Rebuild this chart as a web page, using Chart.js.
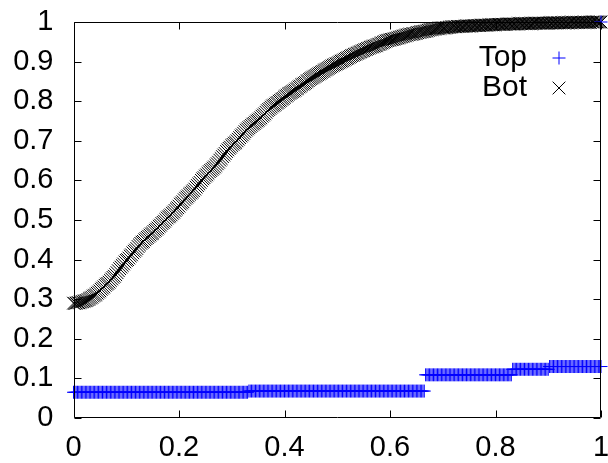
<!DOCTYPE html>
<html>
<head>
<meta charset="utf-8">
<script src="https://cdn.jsdelivr.net/npm/chart.js@4/dist/chart.umd.min.js"></script>
<style>
html,body{margin:0;padding:0;background:#fff;}
#c{display:block;}
</style>
</head>
<body>
<canvas id="c" width="608" height="463"></canvas>
<script>
const seriesNames = ['Top', 'Bot'];

const xValues = [
  0.0000,0.0025,0.0050,0.0075,0.0100,0.0125,0.0150,0.0175,0.0200,0.0225,
  0.0250,0.0275,0.0300,0.0325,0.0350,0.0375,0.0400,0.0425,0.0450,0.0475,
  0.0500,0.0525,0.0550,0.0575,0.0600,0.0625,0.0650,0.0675,0.0700,0.0725,
  0.0750,0.0775,0.0800,0.0825,0.0850,0.0875,0.0900,0.0925,0.0950,0.0975,
  0.1000,0.1025,0.1050,0.1075,0.1100,0.1125,0.1150,0.1175,0.1200,0.1225,
  0.1250,0.1275,0.1300,0.1325,0.1350,0.1375,0.1400,0.1425,0.1450,0.1475,
  0.1500,0.1525,0.1550,0.1575,0.1600,0.1625,0.1650,0.1675,0.1700,0.1725,
  0.1750,0.1775,0.1800,0.1825,0.1850,0.1875,0.1900,0.1925,0.1950,0.1975,
  0.2000,0.2025,0.2050,0.2075,0.2100,0.2125,0.2150,0.2175,0.2200,0.2225,
  0.2250,0.2275,0.2300,0.2325,0.2350,0.2375,0.2400,0.2425,0.2450,0.2475,
  0.2500,0.2525,0.2550,0.2575,0.2600,0.2625,0.2650,0.2675,0.2700,0.2725,
  0.2750,0.2775,0.2800,0.2825,0.2850,0.2875,0.2900,0.2925,0.2950,0.2975,
  0.3000,0.3025,0.3050,0.3075,0.3100,0.3125,0.3150,0.3175,0.3200,0.3225,
  0.3250,0.3275,0.3300,0.3325,0.3350,0.3375,0.3400,0.3425,0.3450,0.3475,
  0.3500,0.3525,0.3550,0.3575,0.3600,0.3625,0.3650,0.3675,0.3700,0.3725,
  0.3750,0.3775,0.3800,0.3825,0.3850,0.3875,0.3900,0.3925,0.3950,0.3975,
  0.4000,0.4025,0.4050,0.4075,0.4100,0.4125,0.4150,0.4175,0.4200,0.4225,
  0.4250,0.4275,0.4300,0.4325,0.4350,0.4375,0.4400,0.4425,0.4450,0.4475,
  0.4500,0.4525,0.4550,0.4575,0.4600,0.4625,0.4650,0.4675,0.4700,0.4725,
  0.4750,0.4775,0.4800,0.4825,0.4850,0.4875,0.4900,0.4925,0.4950,0.4975,
  0.5000,0.5025,0.5050,0.5075,0.5100,0.5125,0.5150,0.5175,0.5200,0.5225,
  0.5250,0.5275,0.5300,0.5325,0.5350,0.5375,0.5400,0.5425,0.5450,0.5475,
  0.5500,0.5525,0.5550,0.5575,0.5600,0.5625,0.5650,0.5675,0.5700,0.5725,
  0.5750,0.5775,0.5800,0.5825,0.5850,0.5875,0.5900,0.5925,0.5950,0.5975,
  0.6000,0.6025,0.6050,0.6075,0.6100,0.6125,0.6150,0.6175,0.6200,0.6225,
  0.6250,0.6275,0.6300,0.6325,0.6350,0.6375,0.6400,0.6425,0.6450,0.6475,
  0.6500,0.6525,0.6550,0.6575,0.6600,0.6625,0.6650,0.6675,0.6700,0.6725,
  0.6750,0.6775,0.6800,0.6825,0.6850,0.6875,0.6900,0.6925,0.6950,0.6975,
  0.7000,0.7025,0.7050,0.7075,0.7100,0.7125,0.7150,0.7175,0.7200,0.7225,
  0.7250,0.7275,0.7300,0.7325,0.7350,0.7375,0.7400,0.7425,0.7450,0.7475,
  0.7500,0.7525,0.7550,0.7575,0.7600,0.7625,0.7650,0.7675,0.7700,0.7725,
  0.7750,0.7775,0.7800,0.7825,0.7850,0.7875,0.7900,0.7925,0.7950,0.7975,
  0.8000,0.8025,0.8050,0.8075,0.8100,0.8125,0.8150,0.8175,0.8200,0.8225,
  0.8250,0.8275,0.8300,0.8325,0.8350,0.8375,0.8400,0.8425,0.8450,0.8475,
  0.8500,0.8525,0.8550,0.8575,0.8600,0.8625,0.8650,0.8675,0.8700,0.8725,
  0.8750,0.8775,0.8800,0.8825,0.8850,0.8875,0.8900,0.8925,0.8950,0.8975,
  0.9000,0.9025,0.9050,0.9075,0.9100,0.9125,0.9150,0.9175,0.9200,0.9225,
  0.9250,0.9275,0.9300,0.9325,0.9350,0.9375,0.9400,0.9425,0.9450,0.9475,
  0.9500,0.9525,0.9550,0.9575,0.9600,0.9625,0.9650,0.9675,0.9700,0.9725,
  0.9750,0.9775,0.9800,0.9825,0.9850,0.9875,0.9900,0.9925,0.9950,0.9975,
  1.0000
];

const topValues = [
  0.065,0.065,0.065,0.065,0.065,0.065,0.065,0.065,0.065,0.065,
  0.065,0.065,0.065,0.065,0.065,0.065,0.065,0.065,0.065,0.065,
  0.065,0.065,0.065,0.065,0.065,0.065,0.065,0.065,0.065,0.065,
  0.065,0.065,0.065,0.065,0.065,0.065,0.065,0.065,0.065,0.065,
  0.065,0.065,0.065,0.065,0.065,0.065,0.065,0.065,0.065,0.065,
  0.065,0.065,0.065,0.065,0.065,0.065,0.065,0.065,0.065,0.065,
  0.065,0.065,0.065,0.065,0.065,0.065,0.065,0.065,0.065,0.065,
  0.065,0.065,0.065,0.065,0.065,0.065,0.065,0.065,0.065,0.065,
  0.065,0.065,0.065,0.065,0.065,0.065,0.065,0.065,0.065,0.065,
  0.065,0.065,0.065,0.065,0.065,0.065,0.065,0.065,0.065,0.065,
  0.065,0.065,0.065,0.065,0.065,0.065,0.065,0.065,0.065,0.065,
  0.065,0.065,0.065,0.065,0.065,0.065,0.065,0.065,0.065,0.065,
  0.065,0.065,0.065,0.065,0.065,0.065,0.065,0.065,0.065,0.065,
  0.065,0.065,0.065,0.068,0.068,0.068,0.068,0.068,0.068,0.068,
  0.068,0.068,0.068,0.068,0.068,0.068,0.068,0.068,0.068,0.068,
  0.068,0.068,0.068,0.068,0.068,0.068,0.068,0.068,0.068,0.068,
  0.068,0.068,0.068,0.068,0.068,0.068,0.068,0.068,0.068,0.068,
  0.068,0.068,0.068,0.068,0.068,0.068,0.068,0.068,0.068,0.068,
  0.068,0.068,0.068,0.068,0.068,0.068,0.068,0.068,0.068,0.068,
  0.068,0.068,0.068,0.068,0.068,0.068,0.068,0.068,0.068,0.068,
  0.068,0.068,0.068,0.068,0.068,0.068,0.068,0.068,0.068,0.068,
  0.068,0.068,0.068,0.068,0.068,0.068,0.068,0.068,0.068,0.068,
  0.068,0.068,0.068,0.068,0.068,0.068,0.068,0.068,0.068,0.068,
  0.068,0.068,0.068,0.068,0.068,0.068,0.068,0.068,0.068,0.068,
  0.068,0.068,0.068,0.068,0.068,0.068,0.068,0.068,0.068,0.068,
  0.068,0.068,0.068,0.068,0.068,0.068,0.068,0.068,0.068,0.068,
  0.068,0.068,0.068,0.068,0.068,0.068,0.068,0.109,0.109,0.109,
  0.109,0.109,0.109,0.109,0.109,0.109,0.109,0.109,0.109,0.109,
  0.109,0.109,0.109,0.109,0.109,0.109,0.109,0.109,0.109,0.109,
  0.109,0.109,0.109,0.109,0.109,0.109,0.109,0.109,0.109,0.109,
  0.109,0.109,0.109,0.109,0.109,0.109,0.109,0.109,0.109,0.109,
  0.109,0.109,0.109,0.109,0.109,0.109,0.109,0.109,0.109,0.109,
  0.109,0.109,0.109,0.109,0.109,0.109,0.109,0.109,0.109,0.109,
  0.109,0.109,0.109,0.123,0.123,0.123,0.123,0.123,0.123,0.123,
  0.123,0.123,0.123,0.123,0.123,0.123,0.123,0.123,0.123,0.123,
  0.123,0.123,0.123,0.123,0.123,0.123,0.123,0.123,0.123,0.123,
  0.123,0.130,0.130,0.130,0.130,0.130,0.130,0.130,0.130,0.130,
  0.130,0.130,0.130,0.130,0.130,0.130,0.130,0.130,0.130,0.130,
  0.130,0.130,0.130,0.130,0.130,0.130,0.130,0.130,0.130,0.130,
  0.130,0.130,0.130,0.130,0.130,0.130,0.130,0.130,0.130,0.130,
  0.130
];
// last recorded point of the Top series (sits under Bot's end marker)
const topEndX = 1.0;
const topEndY = 1.0;

const botValues = [
  0.290,0.289,0.290,0.291,0.291,0.292,0.293,0.294,0.295,0.296,
  0.297,0.299,0.301,0.303,0.305,0.308,0.310,0.312,0.315,0.318,
  0.321,0.325,0.328,0.331,0.335,0.338,0.340,0.343,0.347,0.351,
  0.355,0.358,0.362,0.367,0.372,0.377,0.381,0.385,0.389,0.394,
  0.398,0.400,0.404,0.409,0.412,0.417,0.421,0.424,0.428,0.433,
  0.437,0.441,0.444,0.446,0.450,0.453,0.456,0.459,0.462,0.465,
  0.467,0.471,0.474,0.477,0.480,0.484,0.487,0.491,0.494,0.497,
  0.501,0.505,0.508,0.510,0.513,0.517,0.520,0.524,0.528,0.531,
  0.535,0.540,0.543,0.546,0.551,0.555,0.558,0.561,0.565,0.568,
  0.571,0.574,0.578,0.583,0.587,0.591,0.595,0.600,0.604,0.607,
  0.611,0.614,0.618,0.622,0.625,0.628,0.631,0.634,0.638,0.642,
  0.646,0.651,0.655,0.660,0.664,0.668,0.673,0.677,0.681,0.684,
  0.688,0.691,0.694,0.696,0.700,0.704,0.708,0.712,0.715,0.719,
  0.723,0.727,0.730,0.733,0.736,0.739,0.742,0.744,0.747,0.750,
  0.752,0.755,0.758,0.762,0.765,0.768,0.772,0.776,0.779,0.782,
  0.785,0.788,0.790,0.792,0.795,0.797,0.800,0.802,0.805,0.807,
  0.810,0.813,0.815,0.818,0.820,0.822,0.824,0.826,0.828,0.831,
  0.833,0.836,0.838,0.841,0.843,0.845,0.847,0.850,0.852,0.855,
  0.857,0.859,0.861,0.863,0.865,0.867,0.869,0.871,0.873,0.875,
  0.877,0.879,0.881,0.883,0.885,0.887,0.889,0.891,0.892,0.894,
  0.895,0.897,0.899,0.901,0.902,0.904,0.906,0.908,0.909,0.911,
  0.913,0.915,0.916,0.918,0.919,0.921,0.922,0.924,0.925,0.927,
  0.928,0.930,0.931,0.933,0.934,0.936,0.937,0.938,0.939,0.940,
  0.941,0.943,0.944,0.946,0.947,0.949,0.950,0.952,0.953,0.954,
  0.955,0.956,0.956,0.957,0.958,0.959,0.960,0.961,0.962,0.963,
  0.964,0.965,0.966,0.967,0.968,0.969,0.969,0.970,0.970,0.971,
  0.972,0.973,0.974,0.975,0.975,0.976,0.976,0.977,0.978,0.979,
  0.980,0.981,0.981,0.982,0.982,0.983,0.983,0.984,0.984,0.985,
  0.985,0.985,0.985,0.986,0.986,0.987,0.987,0.988,0.988,0.988,
  0.988,0.989,0.989,0.989,0.989,0.989,0.989,0.990,0.990,0.990,
  0.990,0.990,0.990,0.991,0.991,0.991,0.991,0.991,0.991,0.992,
  0.992,0.992,0.992,0.992,0.992,0.993,0.993,0.993,0.993,0.993,
  0.993,0.994,0.994,0.994,0.994,0.994,0.994,0.994,0.994,0.995,
  0.995,0.995,0.995,0.995,0.995,0.995,0.995,0.996,0.996,0.996,
  0.996,0.996,0.996,0.996,0.996,0.996,0.996,0.996,0.996,0.997,
  0.997,0.997,0.997,0.997,0.997,0.997,0.997,0.997,0.997,0.997,
  0.997,0.998,0.998,0.998,0.998,0.998,0.998,0.998,0.998,0.998,
  0.998,0.998,0.998,0.998,0.998,0.998,0.998,0.999,0.999,0.999,
  0.999,0.999,0.999,0.999,0.999,0.999,0.999,0.999,0.999,0.999,
  0.999,0.999,0.999,1.000,1.000,1.000,1.000,1.000,1.000,1.000,
  1.000
];

const xTicks = [0, 0.2, 0.4, 0.6, 0.8, 1];
const yTicks = [0, 0.1, 0.2, 0.3, 0.4, 0.5, 0.6, 0.7, 0.8, 0.9, 1];

const FONT = '"Liberation Sans", Arial, Helvetica, sans-serif';
const TOP_COLOR = '#0000ff';
const BOT_COLOR = '#000000';

const topData = xValues.map((x, i) => ({x: x, y: topValues[i]}));
topData.push({x: topEndX, y: topEndY});
const botData = xValues.map((x, i) => ({x: x, y: botValues[i]}));

// frame with inward ticks on all four sides, plus gnuplot-style legend (text left of marker)
const framePlugin = {
  id: 'frame',
  afterDatasetsDraw(chart) {
    const {ctx, chartArea: a, scales} = chart;
    ctx.save();
    ctx.strokeStyle = '#000';
    ctx.lineWidth = 1;
    const L = Math.round(a.left) + 0.5, R = Math.round(a.right) - 0.5;
    const T = Math.round(a.top) + 0.5, B = Math.round(a.bottom) - 0.5;
    ctx.beginPath();
    ctx.rect(L, T, R - L, B - T);
    const tl = 7;
    xTicks.forEach(v => {
      const px = Math.round(scales.x.getPixelForValue(v)) + 0.5;
      ctx.moveTo(px, B); ctx.lineTo(px, B - tl);
      ctx.moveTo(px, T); ctx.lineTo(px, T + tl);
    });
    yTicks.forEach(v => {
      const py = Math.round(scales.y.getPixelForValue(v)) + 0.5;
      ctx.moveTo(L, py); ctx.lineTo(L + tl, py);
      ctx.moveTo(R, py); ctx.lineTo(R - tl, py);
    });
    ctx.stroke();
    ctx.restore();
  },
  afterDraw(chart) {
    const {ctx, chartArea: a} = chart;
    ctx.save();
    ctx.font = '30px ' + FONT;
    ctx.fillStyle = '#000';
    ctx.textAlign = 'right';
    ctx.textBaseline = 'middle';
    chart.data.datasets.forEach((ds, i) => {
      const y = a.top + 36 + i * 30;
      ctx.fillText(ds.label, a.right - 74, y);
      ctx.strokeStyle = ds.borderColor;
      ctx.lineWidth = 1;
      Chart.helpers.drawPoint(ctx, {
        pointStyle: ds.pointStyle, radius: ds.legendRadius, borderWidth: 1, rotation: 0
      }, a.right - 42, y);
    });
    ctx.restore();
  }
};

new Chart(document.getElementById('c'), {
  type: 'scatter',
  data: {
    datasets: [
      { label: seriesNames[0], data: topData, pointStyle: 'cross', pointRadius: 6.5, legendRadius: 6.5,
        borderColor: TOP_COLOR, backgroundColor: TOP_COLOR, pointBorderWidth: 1, showLine: false, clip: false },
      { label: seriesNames[1], data: botData, pointStyle: 'crossRot', pointRadius: 9, legendRadius: 9,
        borderColor: BOT_COLOR, backgroundColor: BOT_COLOR, pointBorderWidth: 1, showLine: false, clip: false }
    ]
  },
  options: {
    responsive: false,
    animation: false,
    devicePixelRatio: 1,
    layout: {autoPadding: false, padding: {left: 13, top: 22, right: 7, bottom: 0}},
    plugins: { legend: {display: false}, tooltip: {enabled: false} },
    scales: {
      x: {
        type: 'linear', min: 0, max: 1,
        afterBuildTicks: s => { s.ticks = xTicks.map(v => ({value: v})); },
        afterFit: s => { s.height = 45; s.paddingLeft = 0; s.paddingRight = 0; },
        ticks: { font: {family: FONT, size: 29}, color: '#000', padding: 13, maxRotation: 0, autoSkip: false,
          callback: v => String(+v.toFixed(1)) },
        grid: {display: false, drawTicks: false}, border: {display: false}
      },
      y: {
        type: 'linear', min: 0, max: 1,
        afterBuildTicks: s => { s.ticks = yTicks.map(v => ({value: v})); },
        afterFit: s => { s.width = 60.5; s.paddingTop = 0; s.paddingBottom = 0; },
        ticks: { font: {family: FONT, size: 29}, color: '#000', padding: 20, autoSkip: false,
          callback: v => String(+v.toFixed(1)) },
        grid: {display: false, drawTicks: false}, border: {display: false}
      }
    }
  },
  plugins: [framePlugin]
});
</script>
</body>
</html>
